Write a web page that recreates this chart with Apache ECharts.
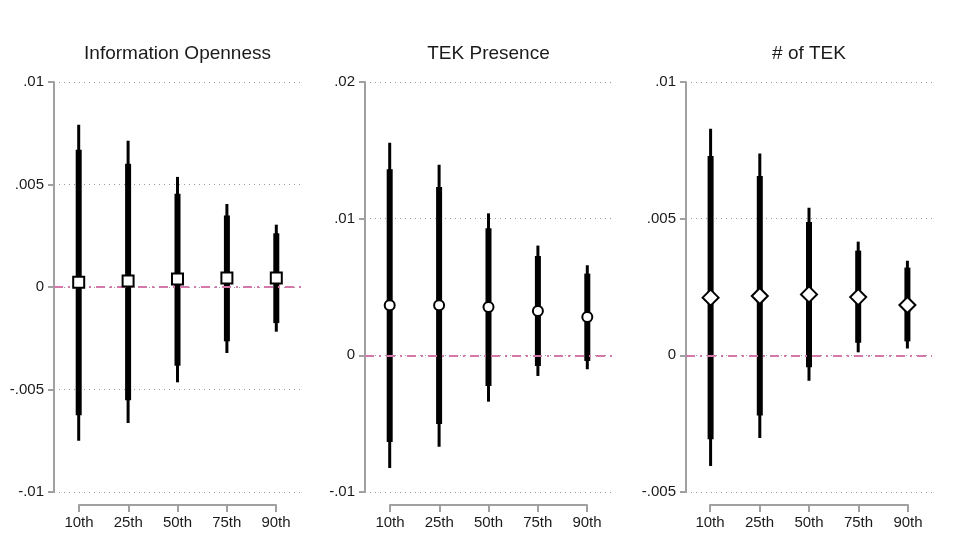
<!DOCTYPE html>
<html>
<head>
<meta charset="utf-8">
<script src="https://cdn.jsdelivr.net/npm/echarts@6/dist/echarts.min.js"></script>
<style>
html,body{margin:0;padding:0;background:#fff;}
#c{width:956px;height:560px;}
</style>
</head>
<body>
<div id="c"></div>
<script>
const categories = ['10th', '25th', '50th', '75th', '90th'];
const panelTitles = ['Information Openness', 'TEK Presence', '# of TEK'];

// Information Openness
const infoEst  = [0.00023, 0.00029, 0.00039, 0.00044, 0.00044];
const infoLo95 = [-0.0075, -0.00664, -0.00465, -0.00322, -0.00218];
const infoLo90 = [-0.00626, -0.00553, -0.00384, -0.00265, -0.00176];
const infoHi90 = [0.0067, 0.00601, 0.00455, 0.00349, 0.00262];
const infoHi95 = [0.00792, 0.00714, 0.00537, 0.00405, 0.00304];
const infoTicks = [-0.01, -0.005, 0, 0.005, 0.01];

// TEK Presence
const tekEst  = [0.00366, 0.00366, 0.00354, 0.00324, 0.0028];
const tekLo95 = [-0.00824, -0.00668, -0.00339, -0.00151, -0.00102];
const tekLo90 = [-0.00634, -0.00502, -0.00224, -0.00078, -0.00041];
const tekHi90 = [0.01361, 0.01232, 0.00929, 0.00727, 0.00598];
const tekHi95 = [0.01556, 0.01395, 0.01039, 0.00803, 0.00659];
const tekTicks = [-0.01, 0, 0.01, 0.02];

// # of TEK
const numEst  = [0.00211, 0.00217, 0.00223, 0.00213, 0.00184];
const numLo95 = [-0.00405, -0.00302, -0.00093, 0.00011, 0.00025];
const numLo90 = [-0.00307, -0.0022, -0.00044, 0.00046, 0.00051];
const numHi90 = [0.00729, 0.00656, 0.00488, 0.00383, 0.00321];
const numHi95 = [0.00829, 0.00738, 0.0054, 0.00416, 0.00346];
const numTicks = [-0.005, 0, 0.005, 0.01];

const FONT = "'Liberation Sans', Arial, sans-serif";
const AXIS_COLOR = '#a0a0a0';
const TEXT_COLOR = '#1a1a1a';

const panels = [
  {title: panelTitles[0], est: infoEst, lo95: infoLo95, lo90: infoLo90, hi90: infoHi90, hi95: infoHi95, ticks: infoTicks, symbol: 'rect', symbolSize: 11,
   left: 54, width: 247, axLeft: 79, axWidth: 197},
  {title: panelTitles[1], est: tekEst, lo95: tekLo95, lo90: tekLo90, hi90: tekHi90, hi95: tekHi95, ticks: tekTicks, symbol: 'circle', symbolSize: 10,
   left: 365, width: 247, axLeft: 390, axWidth: 197},
  {title: panelTitles[2], est: numEst, lo95: numLo95, lo90: numLo90, hi90: numHi90, hi95: numHi95, ticks: numTicks, symbol: 'diamond', symbolSize: 16,
   left: 686, width: 246, axLeft: 710, axWidth: 198}
];

function fmt(v) {
  if (Math.abs(v) < 1e-12) return '0';
  let s = String(+v.toFixed(6));
  return s.replace('0.', '.');
}

const option = {
  animation: false,
  backgroundColor: '#fff',
  grid: [], xAxis: [], yAxis: [], series: [], graphic: []
};

panels.forEach((p, i) => {
  const top = 82, height = 410;
  option.grid.push({left: p.left, top: top, width: p.width, height: height, containLabel: false});
  option.grid.push({left: p.axLeft, top: 504, width: p.axWidth, height: 1, containLabel: false});
  const gMain = 2 * i, gAx = 2 * i + 1;
  const interval = p.ticks[1] - p.ticks[0];
  option.xAxis.push({type: 'category', gridIndex: gMain, data: categories, boundaryGap: true,
    axisLine: {show: false}, axisTick: {show: false}, axisLabel: {show: false}, splitLine: {show: false}});
  option.xAxis.push({type: 'category', gridIndex: gAx, data: categories, boundaryGap: false,
    axisLine: {show: true, lineStyle: {color: AXIS_COLOR, width: 2}},
    axisTick: {show: true, inside: false, length: 7, lineStyle: {color: AXIS_COLOR, width: 2}, alignWithLabel: true},
    axisLabel: {show: true, color: TEXT_COLOR, fontSize: 15, fontFamily: FONT, margin: 10},
    splitLine: {show: false}});
  option.yAxis.push({type: 'value', gridIndex: gMain, min: p.ticks[0], max: p.ticks[p.ticks.length - 1], interval: interval,
    axisLine: {show: true, lineStyle: {color: AXIS_COLOR, width: 2}},
    axisTick: {show: true, length: 6, lineStyle: {color: AXIS_COLOR, width: 2}},
    axisLabel: {show: true, color: TEXT_COLOR, fontSize: 15, fontFamily: FONT, margin: 10, formatter: fmt},
    splitLine: {show: true, lineStyle: {color: '#9a9a9a', width: 1, type: [1, 4]}}});
  option.yAxis.push({type: 'value', gridIndex: gAx, show: false, min: 0, max: 1});

  const ciData = categories.map((c, k) => [k, p.lo95[k], p.lo90[k], p.hi90[k], p.hi95[k]]);
  option.series.push({
    type: 'custom', xAxisIndex: 2 * i, yAxisIndex: 2 * i, data: ciData, silent: true,
    encode: {x: 0, y: [1, 2, 3, 4]},
    markLine: {
      silent: true, symbol: 'none', label: {show: false},
      lineStyle: {color: '#d477aa', width: 2, type: [9, 5, 2, 5]},
      data: [{yAxis: 0}]
    },
    renderItem: function (params, api) {
      const x = api.value(0);
      const a95 = api.coord([x, api.value(1)]);
      const a90 = api.coord([x, api.value(2)]);
      const b90 = api.coord([x, api.value(3)]);
      const b95 = api.coord([x, api.value(4)]);
      return {type: 'group', children: [
        {type: 'line', shape: {x1: a95[0], y1: a95[1], x2: b95[0], y2: b95[1]}, style: {stroke: '#000', lineWidth: 3, lineCap: 'butt'}},
        {type: 'line', shape: {x1: a90[0], y1: a90[1], x2: b90[0], y2: b90[1]}, style: {stroke: '#000', lineWidth: 6, lineCap: 'butt'}}
      ]};
    }
  });
  option.series.push({
    type: 'scatter', xAxisIndex: 2 * i, yAxisIndex: 2 * i, silent: true, z: 5,
    data: categories.map((c, k) => [k, p.est[k]]),
    symbol: p.symbol, symbolSize: p.symbolSize,
    itemStyle: {color: '#fff', borderColor: '#000', borderWidth: 2, opacity: 1}
  });
  option.graphic.push({
    type: 'text', x: p.left + p.width / 2, y: 54,
    style: {text: p.title, fill: TEXT_COLOR, font: '19px ' + FONT, textAlign: 'center', textVerticalAlign: 'middle'}
  });
});

const chart = echarts.init(document.getElementById('c'), null, {renderer: 'canvas'});
chart.setOption(option);
</script>
</body>
</html>
